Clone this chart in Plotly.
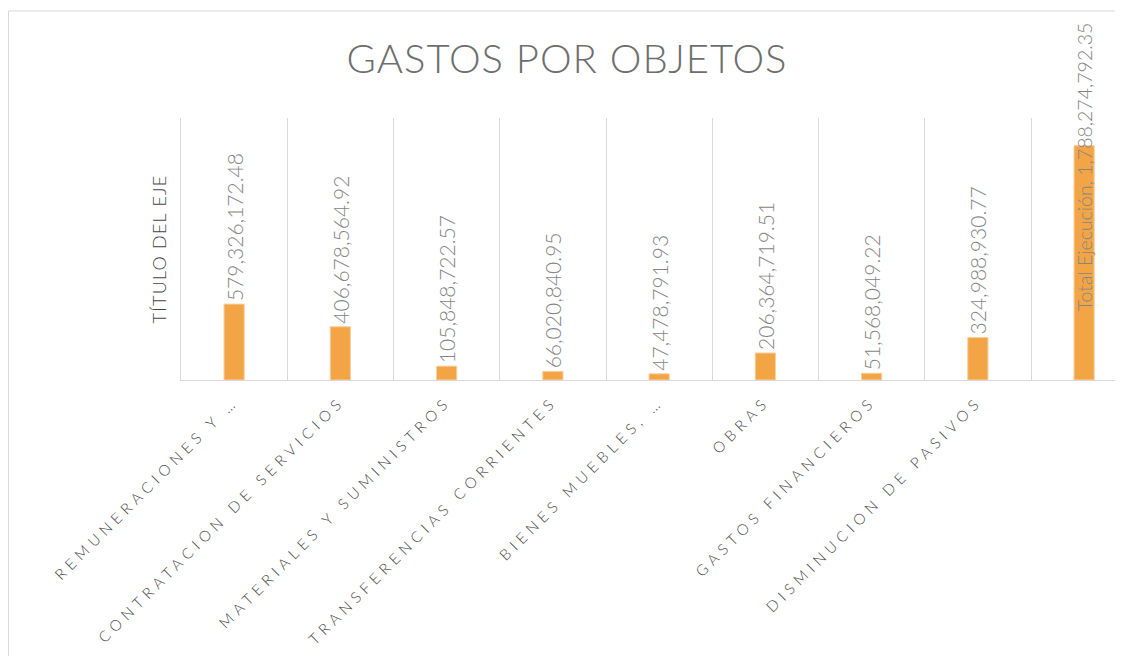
import plotly.graph_objects as go

# ---- data ----
categories = [
    "REMUNERACIONES Y …",
    "CONTRATACION DE SERVICIOS",
    "MATERIALES Y SUMINISTROS",
    "TRANSFERENCIAS CORRIENTES",
    "BIENES MUEBLES, …",
    "OBRAS",
    "GASTOS FINANCIEROS",
    "DISMINUCION DE PASIVOS",
    "Total Ejecución",
]
tick_labels = categories[:8] + [""]
values = [
    579326172.48,
    406678564.92,
    105848722.57,
    66020840.95,
    47478791.93,
    206364719.51,
    51568049.22,
    324988930.77,
    1788274792.35,
]
chart_title = "GASTOS POR OBJETOS"
y_title = "TÍTULO DEL EJE"

label_texts = [f"{v:,.2f}" for v in values[:8]] + [""]
total_label = f"{categories[8]}, {values[8]:,.2f}"

BAR = "#F3A546"
LABEL_GRAY = "#858585"
TICK_GRAY = "#4E4E4E"
TITLE_Y_GRAY = "#454545"
GRID = "#D9D9D9"
FONT = "Lato, 'Open Sans', sans-serif"

W, H = 1123, 656
ML, MT, PH = 173, 110, 262
PW = W - ML

fig = go.Figure()
fig.add_trace(go.Bar(
    x=categories,
    y=values,
    width=0.19,
    marker=dict(color=BAR, line=dict(color="#F8CFA0", width=1)),
    text=label_texts,
    textposition="outside",
    textangle=-90,
    constraintext="none",
    cliponaxis=False,
    textfont=dict(family=FONT, size=21, color=LABEL_GRAY, weight=300),
    hoverinfo="skip",
))

fig.add_annotation(
    x=categories[8], y=values[8], xref="x", yref="y",
    text=total_label, textangle=-90, showarrow=False,
    xanchor="center", yanchor="bottom", yshift=-168,
    font=dict(family=FONT, size=19.5, color=LABEL_GRAY, weight=300),
)

fig.update_layout(
    width=W, height=H,
    margin=dict(l=ML, r=0, t=MT, b=H - MT - PH),
    paper_bgcolor="white", plot_bgcolor="white",
    showlegend=False,
    title=dict(
        text=chart_title, x=559 / W, xref="container", xanchor="center",
        y=1 - 51 / H, yref="container", yanchor="middle",
        font=dict(family=FONT, size=40, color="#6E6E6E", weight=300),
    ),
    xaxis=dict(
        type="category", range=[-0.5, -0.5 + PW / 106.25],
        tickmode="array", tickvals=categories, ticktext=tick_labels,
        tickangle=-45, tickson="boundaries", ticks="",
        ticklabelstandoff=6,
        showgrid=True, gridcolor=GRID, gridwidth=1,
        showline=True, linecolor=GRID, linewidth=1,
        tickfont=dict(family=FONT, size=15, color=TICK_GRAY, weight=300),
    ),
    yaxis=dict(
        range=[0, 2e9], showticklabels=False, showgrid=False, zeroline=False,
        showline=True, linecolor=GRID, linewidth=1, ticks="",
        title=dict(text=y_title, standoff=8,
                   font=dict(family=FONT, size=18, color=TITLE_Y_GRAY, weight=300)),
    ),
    shapes=[dict(
        type="rect", xref="paper", yref="paper",
        x0=(0.5 - ML) / PW, x1=1.1, y0=-1.3, y1=(MT + PH - 3) / PH,
        line=dict(color=GRID, width=1), fillcolor="rgba(0,0,0,0)", layer="below",
    )],
)

post = """
var gd = document.getElementById('{plot_id}');
function spc(){
  gd.querySelectorAll('.xtick text').forEach(function(t){ t.style.letterSpacing = '5px'; });
  gd.querySelectorAll('.gtitle').forEach(function(t){ t.style.letterSpacing = '1px'; });
  gd.querySelectorAll('.ytitle').forEach(function(t){ t.style.letterSpacing = '1.2px'; });
}
spc();
gd.on('plotly_afterplot', spc);
"""

fig.write_html("out.html", post_script=post)
